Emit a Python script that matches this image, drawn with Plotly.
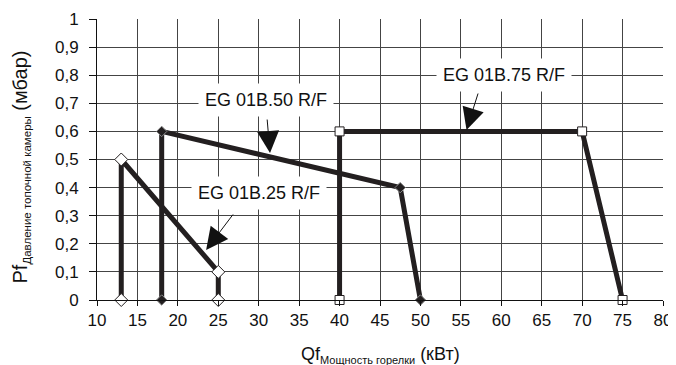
import plotly.graph_objects as go

# Data
x25 = [13, 13, 25, 25]
y25 = [0, 0.5, 0.1, 0]
x50 = [18, 18, 47.5, 50]
y50 = [0, 0.6, 0.4, 0]
x75 = [40, 40, 70, 75]
y75 = [0, 0.6, 0.6, 0]

labels = ["EG 01B.25 R/F", "EG 01B.50 R/F", "EG 01B.75 R/F"]
label_pos = [(30.0, 0.381), (30.9, 0.712), (60.3, 0.80)]
arrow_tips = [(23.5, 0.178), (31.4, 0.523), (55.7, 0.605)]
arrow_tails_px = [(28, -37), (-3, -35), (12, -38)]

x_ticks = list(range(10, 81, 5))
y_ticks = [round(i * 0.1, 1) for i in range(11)]

x_title = 'Qf<sub><span style="font-size:11px">Мощность горелки</span></sub> (кВт)'
y_title = 'Pf<sub><span style="font-size:11.5px">Давление топочной камеры</span></sub> (мбар)'

FONT = "Liberation Sans, Arial, sans-serif"
LINE = "#231f20"

fig = go.Figure()
fig.add_trace(go.Scatter(
    x=x25, y=y25, mode="lines+markers",
    line=dict(color=LINE, width=5),
    marker=dict(symbol="diamond", size=10, color="white", line=dict(color=LINE, width=1)),
    showlegend=False, cliponaxis=False))
fig.add_trace(go.Scatter(
    x=x50, y=y50, mode="lines+markers",
    line=dict(color=LINE, width=5),
    marker=dict(symbol="diamond", size=8, color=LINE, line=dict(color="#888", width=1)),
    showlegend=False, cliponaxis=False))
fig.add_trace(go.Scatter(
    x=x75, y=y75, mode="lines+markers",
    line=dict(color=LINE, width=5),
    marker=dict(symbol="square", size=9, color="white", line=dict(color=LINE, width=1)),
    showlegend=False, cliponaxis=False))

for txt, (lx, ly) in zip(labels, label_pos):
    fig.add_annotation(x=lx, y=ly, text=txt, showarrow=False,
                       font=dict(family=FONT, size=18, color="#111"),
                       bgcolor="white", borderpad=6)

for (tx, ty), (ax, ay) in zip(arrow_tips, arrow_tails_px):
    fig.add_annotation(x=tx, y=ty, text="", showarrow=True,
                       ax=ax, ay=ay, arrowhead=2, arrowsize=4.4,
                       arrowwidth=1, arrowcolor="#111", standoff=0)

# axis titles as annotations for exact placement
fig.add_annotation(xref="paper", yref="paper", x=0.5, y=0, yshift=-55,
                   text=x_title, showarrow=False, xanchor="center", yanchor="middle",
                   font=dict(family=FONT, size=18, color="#111"))
fig.add_annotation(xref="paper", yref="paper", x=0, y=0.5, xshift=-77, yshift=-8,
                   text=y_title, showarrow=False, textangle=-90,
                   xanchor="center", yanchor="middle",
                   font=dict(family=FONT, size=20, color="#111"))

# page body has an 8px default margin, so the figure is sized to fit the window
fig.update_layout(
    width=668, height=357,
    margin=dict(l=89, r=13, t=11, b=65),
    paper_bgcolor="white", plot_bgcolor="white",
    separators=", ",
    font=dict(family=FONT, size=17, color="#111"),
)
fig.update_xaxes(
    range=[10, 80], tickvals=x_ticks, showgrid=True, gridcolor="#444", gridwidth=1,
    showline=True, linecolor="#111", linewidth=1, ticks="outside", ticklen=5,
    tickcolor="#111", zeroline=False, automargin=False,
)
fig.update_yaxes(
    range=[0, 1], tickvals=y_ticks, showgrid=True, gridcolor="#444", gridwidth=1,
    showline=True, linecolor="#111", linewidth=1, ticks="outside", ticklen=7,
    tickcolor="#111", zeroline=False, automargin=False, ticklabelstandoff=7,
)

fig.write_html("out.html")
